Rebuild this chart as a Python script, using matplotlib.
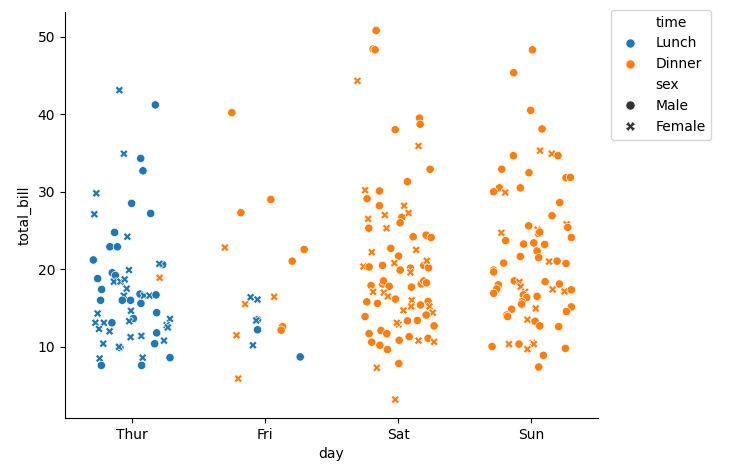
import matplotlib
matplotlib.use("Agg")
import matplotlib.pyplot as plt
import seaborn as sns
import numpy as np
import pandas as pd

days = ["Thur", "Fri", "Sat", "Sun"]

# values: bill, jitter offset, sex, time
thur_bill = [43.1, 41.2, 34.9, 34.3, 32.7, 29.8, 28.5, 27.2, 27.1, 24.75, 24.2, 22.9, 22.9,
             21.2, 20.6, 20.7, 18.9, 19.9, 18.8, 19.55, 19.2, 18.4, 18.4, 18.7, 17.5, 17.4,
             16.8, 16.6, 16.6, 16.7, 16.6, 16.0, 16.0, 16.0, 15.6, 14.65, 14.4, 14.3, 13.65,
             13.3, 13.6, 13.1, 13.1, 13.1, 12.8, 12.5, 12.3, 12.0, 11.8, 11.25, 11.4, 10.8,
             10.4, 10.4, 9.9, 10.0, 8.6, 8.5, 8.6, 7.6, 7.6]
thur_jit = [-0.092, 0.178, -0.058, 0.068, 0.085, -0.265, 0.0, 0.143, -0.28, -0.128, -0.032,
            -0.163, -0.107, -0.287, 0.233, 0.208, 0.21, -0.02, -0.255, -0.145, -0.122, -0.133,
            -0.083, -0.052, -0.037, -0.225, 0.063, 0.093, 0.135, 0.183, -0.058, -0.07, -0.008,
            -0.233, 0.07, -0.005, 0.188, -0.255, 0.013, -0.018, 0.288, -0.272, -0.208, -0.148,
            0.263, 0.272, -0.245, -0.165, 0.188, -0.008, 0.073, 0.243, 0.173, -0.213, -0.088,
            -0.095, 0.288, -0.24, 0.083, -0.227, 0.075]
thur_sex = "FMFMMFMMFMFMMMMFFFMMMFFFFMMFFMFMMMMFMFMFFFFMFFFFMFFFMFMFMFFMM"
thur_time = "LLLLLLLLLLLLLLLLDLLLLLLLLLLLLLLLLLLLLLLLLLLLLLLLLLLLLLLLLLLLL"

fri_bill = [40.2, 29.0, 27.3, 22.8, 22.55, 21.05, 16.4, 16.1, 15.5, 16.45, 13.5, 13.4, 12.2,
            12.6, 12.15, 11.5, 10.2, 8.7, 5.9]
fri_jit = [-0.248, 0.045, -0.18, -0.3, 0.295, 0.205, -0.107, -0.055, -0.148, 0.07, -0.055,
           -0.065, -0.055, 0.133, 0.122, -0.213, -0.09, 0.265, -0.2]
fri_sex = "MMMFMMFFFFMFMMMFFMF"
fri_time = "DDDDDDLLDDLLLDDDLLD"

sat_bill = [50.8, 48.4, 48.3, 44.3, 39.5, 38.7, 38.0, 35.9, 32.9, 31.3, 30.2, 30.1, 29.1,
            28.2, 28.2, 27.25, 27.0, 26.7, 26.0, 26.5, 25.3, 25.3, 24.2, 24.4, 24.1, 22.2,
            22.7, 22.5, 21.7, 20.8, 20.35, 20.3, 20.5, 19.9, 20.15, 19.6, 20.5, 20.2, 21.1,
            17.9, 18.1, 18.5, 17.8, 17.7, 18.1, 18.5, 18.25, 17.1, 17.0, 16.5, 15.8, 15.6,
            16.15, 15.85, 16.0, 15.2, 14.7, 15.4, 15.2, 14.4, 14.1, 13.9, 12.9, 13.1, 13.35,
            13.4, 12.7, 11.7, 12.1, 11.7, 11.3, 11.1, 10.8, 10.65, 10.6, 10.2, 9.65, 10.85,
            7.85, 7.3, 3.2]
sat_jit = [-0.165, -0.188, -0.173, -0.305, 0.16, 0.165, -0.022, 0.153, 0.24, 0.07, -0.248,
           -0.14, -0.233, -0.14, 0.045, 0.078, -0.1, 0.028, 0.015, -0.225, -0.22, -0.087,
           0.113, 0.21, 0.248, -0.198, -0.055, 0.135, 0.003, -0.028, -0.26, -0.218, -0.117,
           0.015, 0.093, 0.093, 0.193, 0.228, 0.215, -0.203, -0.117, -0.11, -0.067, 0.1,
           0.173, 0.193, 0.213, -0.188, -0.107, -0.077, -0.235, -0.155, -0.02, 0.225, 0.102,
           0.098, 0.04, 0.168, 0.235, 0.26, 0.21, -0.248, 0.003, -0.01, 0.07, 0.145, 0.27,
           -0.218, -0.128, -0.085, 0.083, 0.225, 0.153, 0.27, -0.198, -0.137, -0.08, 0.008,
           0.005, -0.16, -0.022]
sat_sex = "MMMFMMMFMMFMMMFFFMMFMFMMMFMFMFFMMMMFMMFMMMMMMMMFFFMMMMFFFMFFMMFFMMMMMMMMFFMMMMMFF"

sun_bill = [48.3, 45.35, 40.5, 38.1, 35.3, 34.9, 34.65, 34.65, 32.9, 32.45, 31.8, 31.85,
            30.5, 30.0, 29.9, 30.5, 28.6, 26.9, 25.8, 25.4, 25.6, 25.1, 24.6, 24.8, 24.7,
            23.7, 23.25, 23.4, 23.2, 24.1, 22.35, 21.5, 21.65, 20.8, 21.0, 21.05, 20.75,
            19.9, 19.65, 18.5, 18.35, 17.75, 17.1, 16.7, 16.35, 15.8, 15.5, 18.0, 17.45,
            16.9, 18.4, 18.1, 17.4, 17.15, 17.35, 16.5, 15.15, 14.55, 14.95, 14.85, 14.1,
            13.9, 13.5, 13.3, 12.7, 12.6, 10.05, 10.35, 10.35, 10.5, 10.35, 9.7, 9.8, 8.9, 7.4]
sun_jit = [0.008, -0.133, -0.005, 0.08, 0.065, 0.153, 0.2, -0.135, -0.222, -0.018, 0.26,
           0.293, -0.24, -0.283, -0.197, -0.083, 0.213, 0.155, 0.265, 0.273, -0.02, 0.047,
           0.053, 0.063, -0.225, -0.193, -0.058, 0.018, 0.1, 0.3, 0.043, 0.055, -0.083,
           -0.208, 0.133, 0.193, 0.26, -0.283, -0.283, -0.128, -0.09, -0.08, -0.047, -0.06,
           -0.035, -0.07, -0.073, -0.248, -0.26, -0.283, 0.103, 0.21, 0.16, 0.248, 0.3,
           0.043, 0.3, 0.263, 0.033, -0.148, -0.185, -0.178, -0.03, 0.028, 0.063, 0.205,
           -0.295, -0.168, -0.093, 0.01, 0.018, -0.03, 0.255, 0.09, 0.055]
sun_sex = "MMMMFFMMMMMMMMFMMMFMMFMMFMMMMMMMMMFMMMMMFFFMMMMMMMMMFFMMMMFMMMFMMMMFMFFFMMM"

sex_names = {"M": "Male", "F": "Female"}
time_names = {"L": "Lunch", "D": "Dinner"}

frames = []
for i, (bill, jit, sex, time) in enumerate([
        (thur_bill, thur_jit, thur_sex, thur_time),
        (fri_bill, fri_jit, fri_sex, fri_time),
        (sat_bill, sat_jit, sat_sex, "D" * len(sat_bill)),
        (sun_bill, sun_jit, sun_sex, "D" * len(sun_bill))]):
    frames.append(pd.DataFrame({
        "day": i + np.array(jit),
        "total_bill": bill,
        "sex": [sex_names[s] for s in sex],
        "time": [time_names[t] for t in time],
    }))
df = pd.concat(frames, ignore_index=True)

fig = plt.figure(figsize=(7.39, 4.69), dpi=100)
ax = fig.add_axes([65 / 739, 51 / 469, 533 / 739, 406 / 469])

sns.scatterplot(data=df, x="day", y="total_bill", hue="time", style="sex",
                hue_order=["Lunch", "Dinner"], style_order=["Male", "Female"], ax=ax)

ax.set_xlim(-0.5, 3.5)
ax.set_xticks(range(len(days)))
ax.set_xticklabels(days)
ax.set_xlabel("day")
ax.set_ylabel("total_bill")
sns.despine(ax=ax)
leg = ax.legend(loc="upper left", bbox_to_anchor=(1.024, 1.005), borderaxespad=0)
# bigger legend markers, as in the reference
for h in leg.legend_handles:
    if hasattr(h, "set_markersize"):
        h.set_markersize(np.sqrt(36) * 1.1)
    elif hasattr(h, "set_sizes"):
        h.set_sizes([45])

fig.savefig("out.png", dpi=100)
